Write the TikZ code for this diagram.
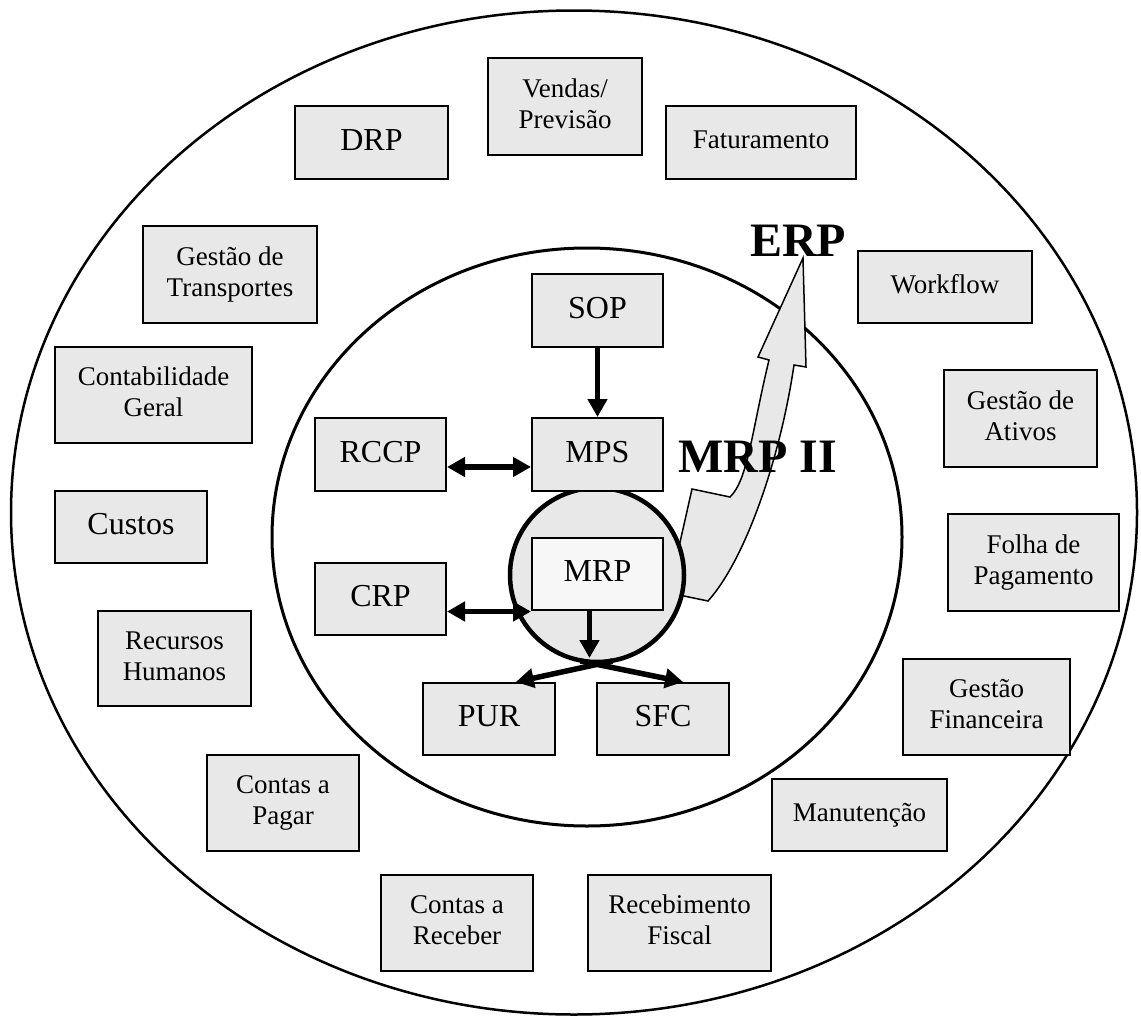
\documentclass[tikz,border=0pt]{standalone}
\usepackage{fontspec}
\setmainfont{Liberation Serif}
\usetikzlibrary{calc,arrows.meta}
\definecolor{boxgray}{HTML}{E8E8E8}
\definecolor{lightfill}{HTML}{F7F7F7}
% centred label text, lifted slightly towards the top of its box
\newcommand\boxlabel[1]{\raisebox{7pt}{\begin{tabular}{@{}c@{}}#1\end{tabular}}}
\tikzset{
  box/.style={draw, line width=2pt, fill=boxgray, inner sep=0pt,
    font=\fontsize{27}{31}\selectfont},
  sz/.style 2 args={minimum width=#1pt, minimum height=#2pt},
  bigtxt/.style={font=\fontsize{32}{38}\selectfont},
  oneway/.style={line width=5.5pt, -{Triangle[length=18pt,width=19pt]}},
  twoway/.style={line width=5.5pt,
    {Triangle[length=18pt,width=19pt]}-{Triangle[length=18pt,width=19pt]}},
  bigbold/.style={font=\fontsize{48}{56}\selectfont\bfseries, inner sep=0pt},
}
\begin{document}
\begin{tikzpicture}[x=1pt,y=-1pt]
\useasboundingbox (0,0) rectangle (1141,1017);

% rings: ERP (outer) and MRP II (inner)
\draw[line width=2.5pt] (574,512.5) ellipse [x radius=563, y radius=502];
\draw[line width=3pt] (587,537) ellipse [x radius=315, y radius=289];

% evolution arrow from MRP up to ERP
\draw[line width=1.5pt, fill=boxgray, line join=miter]
  (675,594) -- (684,596) -- (708,601)
  .. controls (745,560) and (780,460) .. (794,365)
  -- (806,367) -- (803,258) -- (758,357) -- (769,360)
  .. controls (752,430) and (748,480) .. (730,497)
  -- (692,489) -- (676,560) -- cycle;

% MRP core circle
\draw[line width=4.5pt, fill=boxgray] (597,575) circle [radius=87];

% ERP modules
\node[box, sz={154}{97}] (vendas) at (565,106.5) {\boxlabel{Vendas/\\Previsão}};
\node[box, bigtxt, sz={153}{73}] (drp) at (371.5,142.5) {\boxlabel{DRP}};
\node[box, sz={190}{73}] (fat) at (761,142.5) {\boxlabel{Faturamento}};
\node[box, sz={174}{97}] (transp) at (230,274.5) {\boxlabel{Gestão de\\Transportes}};
\node[box, sz={174}{72}] (workflow) at (945,287) {\boxlabel{Workflow}};
\node[box, sz={197}{96}] (contab) at (153.5,395) {\boxlabel{Contabilidade\\Geral}};
\node[box, sz={153}{97}] (ativos) at (1020.5,418.5) {\boxlabel{Gestão de\\Ativos}};
\node[box, bigtxt, sz={152}{72}] (custos) at (131,527) {\boxlabel{Custos}};
\node[box, sz={171}{97}] (folha) at (1033.5,562.5) {\boxlabel{Folha de\\Pagamento}};
\node[box, sz={153}{95}] (rh) at (174.5,658.5) {\boxlabel{Recursos\\Humanos}};
\node[box, sz={167}{96}] (fin) at (986.5,707) {\boxlabel{Gestão\\Financeira}};
\node[box, sz={152}{96}] (pagar) at (283,803) {\boxlabel{Contas a\\Pagar}};
\node[box, sz={175}{72}] (manut) at (859.5,815) {\boxlabel{Manutenção}};
\node[box, sz={152}{96}] (receber) at (457,923) {\boxlabel{Contas a\\Receber}};
\node[box, sz={183}{96}] (fiscal) at (679.5,923) {\boxlabel{Recebimento\\Fiscal}};

% MRP II modules
\node[box, bigtxt, sz={131}{73}] (sop) at (597.5,310.5) {\boxlabel{SOP}};
\node[box, bigtxt, sz={131}{73}] (rccp) at (380.5,454.5) {\boxlabel{RCCP}};
\node[box, bigtxt, sz={131}{73}] (mps) at (597.5,454.5) {\boxlabel{MPS}};
\node[box, bigtxt, sz={131}{72}] (crp) at (380.5,598.5) {\boxlabel{CRP}};
\node[box, bigtxt, sz={131}{72}, fill=lightfill] (mrp) at (597.5,574) {\boxlabel{MRP}};
\node[box, bigtxt, sz={132}{72}] (pur) at (489,719) {\boxlabel{PUR}};
\node[box, bigtxt, sz={132}{72}] (sfc) at (663,719) {\boxlabel{SFC}};

% planning flows
\draw[oneway] (sop.south) -- (mps.north);
\coordinate (rccpR) at ($(rccp.east)+(0,12.5)$);
\draw[twoway] (rccpR) -- (rccpR -| mps.west);
\coordinate (crpR) at ($(crp.east)+(0,13)$);
\draw[twoway] (crpR) -- (crpR -| mrp.west);
\coordinate (mrpOut) at ($(mrp.south)+(-8,0)$);
\draw[oneway] (mrpOut) -- ($(mrpOut)+(0,47)$);
\coordinate (split) at ($(mrp.south)+(0,50)$);
\draw[oneway] ($(split)+(15,0)$) -- ($(pur.north)!0.4!(pur.north east)$);
\draw[oneway] ($(split)+(-17,0)$) -- ($(sfc.north)!0.3!(sfc.north east)$);

% level titles
\node[bigbold] (mrpii) at (758,457) {MRP II};
\node[bigbold] (erp) at (798,241) {ERP};
\end{tikzpicture}
\end{document}
